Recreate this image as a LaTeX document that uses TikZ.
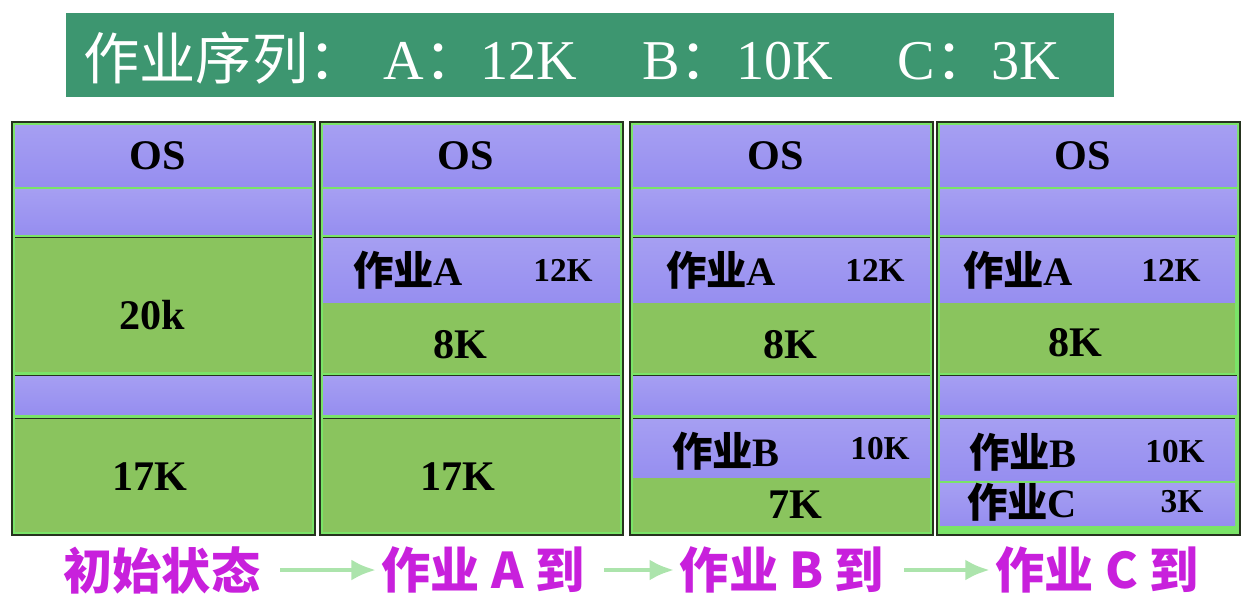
\documentclass[tikz,border=0pt]{standalone}
\usepackage{fontspec}
\setmainfont{Liberation Serif}
\newfontfamily\cjk{Noto Sans CJK SC}
\usetikzlibrary{arrows.meta,positioning,fit,calc}
\definecolor{banner}{RGB}{61,150,112}
\definecolor{jobblue}{RGB}{150,142,240}
\definecolor{freegreen}{RGB}{138,196,94}
\definecolor{rimgreen}{RGB}{122,228,104}
\definecolor{frame}{RGB}{38,50,30}
\definecolor{stage}{RGB}{200,32,220}
\definecolor{arrowgreen}{RGB}{172,228,172}

\begin{document}
\begin{tikzpicture}[x=0.02cm,y=-0.02cm,>=Latex,
  colframe/.style={draw=frame,fill=rimgreen,line width=1pt,inner sep=0pt},
  jobcell/.style={top color=jobblue!85!white,bottom color=jobblue,inner sep=0pt},
  freecell/.style={fill=freegreen,inner sep=0pt},
  sunk/.style={path picture={\draw[frame,line width=1.2pt]
    (path picture bounding box.north west) -- (path picture bounding box.north east);}},
  size/.style={font=\fontsize{24}{24}\selectfont\bfseries},
  kb/.style={font=\fontsize{19}{19}\selectfont\bfseries},
  job/.style={font=\fontsize{23}{23}\selectfont\bfseries},
  stage/.style={text=stage,inner sep=0pt,font=\fontsize{28}{28}\selectfont\bfseries\cjk},
  flow/.style={draw=arrowgreen,line width=2.8pt,-{Latex[length=14pt,width=12pt]},
    shorten <=11pt,shorten >=3pt}]
  \useasboundingbox (0,0) rectangle (1252,600);
  % job sequence banner
  \node[fill=banner,inner sep=0pt,fit={(66,13) (1114,97)}] (bar) {};
  \node[anchor=base west,text=white,inner sep=0pt,font=\fontsize{32}{32}\selectfont]
    (seq) at (83,79) {{\cjk 作业序列：}\hspace{11pt}A{\cjk ：}12K\hspace{37pt}B{\cjk ：}10K\hspace{37pt}C{\cjk ：}3K};
  % four memory snapshots: frame, OS and the reserved rows
  \foreach \x [count=\i] in {12,320,630,937} {
    \node[colframe,fit={(\x,122) (\x+303,535)}] (col\i) {};
    \node[jobcell,fit={(\x+3,125) (\x+300,186)}] (os\i) {};
    \node[size] at ($(os\i.center)+(-6,0)$) (ostext\i) {OS};
    \node[jobcell,fit={(\x+3,189) (\x+300,234)}] (rsv\i) {};
    \node[jobcell,sunk,fit={(\x+3,375) (\x+300,414)}] (mid\i) {};
  }
  % initial state
  \node[freecell,sunk,fit={(15,237) (312,372)}] (free1a) {};
  \node[freecell,sunk,fit={(15,418) (312,532)}] (free1b) {};
  \node[size] (t20) at (152,315) {20k};
  \node[size] (t17a) at (150,477) {17K};
  % job A arrives
  \node[jobcell,sunk,fit={(323,237) (620,303)}] (a2) {};
  \node[freecell,fit={(323,303) (620,373)}] (free2a) {};
  \node[freecell,sunk,fit={(323,418) (620,532)}] (free2b) {};
  \node[job] (ja2) at (408,270) {{\cjk 作业}A};
  \node[kb] (ka2) at (563,270) {12K};
  \node[size] (t8a) at (460,345) {8K};
  \node[size] (t17b) at (458,477) {17K};
  % job B arrives
  \node[jobcell,sunk,fit={(633,237) (930,303)}] (a3) {};
  \node[freecell,fit={(633,303) (930,373)}] (free3a) {};
  \node[jobcell,sunk,fit={(633,418) (930,478)}] (b3) {};
  \node[freecell,fit={(633,478) (930,532)}] (free3b) {};
  \node[job] (ja3) at (721,270) {{\cjk 作业}A};
  \node[kb] (ka3) at (875,270) {12K};
  \node[size] (t8b) at (790,345) {8K};
  \node[job] (jb3) at (726,451) {{\cjk 作业}B};
  \node[kb] (kb3) at (880,449) {10K};
  \node[size] (t7) at (795,505) {7K};
  % job C arrives
  \node[jobcell,sunk,fit={(940,237) (1235,303)}] (a4) {};
  \node[freecell,fit={(940,303) (1235,373)}] (free4a) {};
  \node[jobcell,sunk,fit={(940,418) (1235,480)}] (b4) {};
  \node[jobcell,fit={(940,483) (1235,525)}] (c4) {};
  \node[job] (ja4) at (1018,270) {{\cjk 作业}A};
  \node[kb] (ka4) at (1171,270) {12K};
  \node[size] (t8c) at (1075,343) {8K};
  \node[job] (jb4) at (1023,452) {{\cjk 作业}B};
  \node[kb] (kb4) at (1175,452) {10K};
  \node[job] (jc4) at (1022,502) {{\cjk 作业}C};
  \node[kb] (kc4) at (1182,502) {3K};
  % stages
  \node[stage] (s0) at (162,570) {初始状态};
  \node[stage] (s1) at (483,570) {作业 A 到};
  \node[stage] (s2) at (782,570) {作业 B 到};
  \node[stage] (s3) at (1097,570) {作业 C 到};
  \draw[flow] (s0) -- (s1);
  \draw[flow] (s1) -- (s2);
  \draw[flow] (s2) -- (s3);
\end{tikzpicture}
\end{document}
